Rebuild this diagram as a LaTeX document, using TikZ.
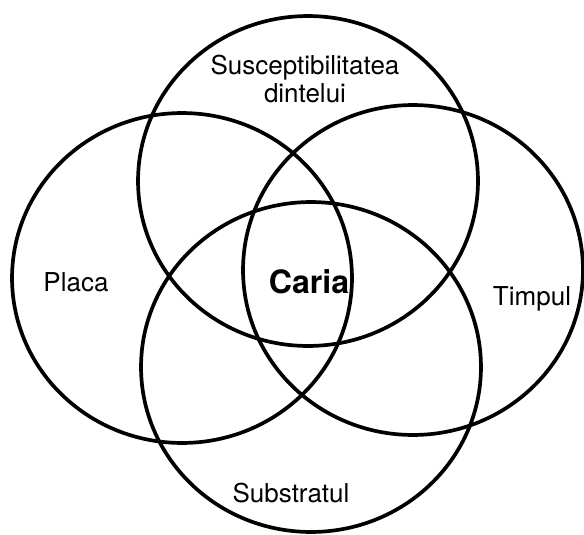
\documentclass[tikz,border=0pt]{standalone}
\usepackage{fontspec}
\setmainfont{TeX Gyre Heros}
\usetikzlibrary{shapes.geometric}

\begin{document}
\begin{tikzpicture}[
  x=0.02cm, y=-0.02cm,
  every node/.style={font=\fontsize{14.8}{16}\selectfont},
  ring/.style={ellipse, draw, line width=2.1pt, inner sep=0pt,
               minimum width=6.8cm, minimum height=6.6cm},
  label/.style={align=center, inner sep=1pt},
  core/.style={font=\fontsize{18.3}{20}\selectfont\bfseries, inner sep=1pt},
]
  \useasboundingbox (0,0) rectangle (584,534);

  % Factor circles
  \node[ring] (susc) at (308,181) {};
  \node[ring] (placa) at (182,278) {};
  \node[ring] (timp) at (413,270) {};
  \node[ring] (subst) at (311,367) {};

  % Labels
  \node[label] (lsusc) at (305,79) {Susceptibilitatea\\dintelui};
  \node[label] (lplaca) at (76,282) {Placa};
  \node[label] (ltimp) at (532,299) {Timpul};
  \node[label] (lsubst) at (291,493) {Substratul};
  \node[core] (caria) at (309,282) {Caria};
\end{tikzpicture}
\end{document}
